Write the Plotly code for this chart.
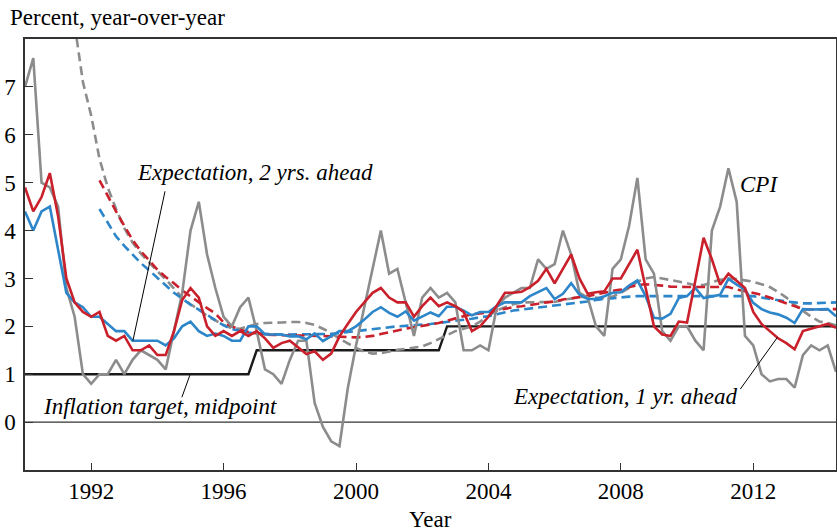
import plotly.graph_objects as go

# Quarterly data, 1990Q1 .. 2014Q3
start_year = 1990
n_quarters = 99

cpi = [7.0, 7.6, 5.0, 4.9, 4.5, 2.8, 2.2, 1.0, 0.8, 1.0, 1.0, 1.3, 1.0, 1.3, 1.5, 1.4, 1.3, 1.1, 1.9, 2.7,
       4.0, 4.6, 3.5, 2.8, 2.2, 2.0, 2.4, 2.6, 1.9, 1.1, 1.0, 0.8, 1.3, 1.7, 1.7, 0.4, -0.1, -0.4, -0.5, 0.7,
       1.6, 2.4, 3.2, 4.0, 3.1, 3.2, 2.5, 1.8, 2.6, 2.8, 2.6, 2.7, 2.5, 1.5, 1.5, 1.6, 1.5, 2.4, 2.6, 2.7,
       2.8, 2.8, 3.4, 3.2, 3.3, 4.0, 3.5, 2.7, 2.6, 2.0, 1.8, 3.2, 3.4, 4.1, 5.1, 3.4, 3.1, 1.9, 1.7, 2.0,
       2.0, 1.7, 1.5, 4.0, 4.5, 5.3, 4.6, 1.8, 1.6, 1.0, 0.85, 0.9, 0.9, 0.72, 1.4, 1.6, 1.5, 1.6, 1.05]

exp_1yr = [4.9, 4.4, 4.7, 5.2, 4.3, 3.0, 2.5, 2.3, 2.2, 2.3, 1.8, 1.7, 1.8, 1.5, 1.5, 1.6, 1.4, 1.4, 1.9, 2.55,
           2.8, 2.6, 2.0, 1.8, 1.9, 1.8, 1.9, 1.8, 1.9, 1.75, 1.55, 1.65, 1.7, 1.55, 1.42, 1.48, 1.3, 1.43, 1.79, 2.05,
           2.3, 2.5, 2.7, 2.8, 2.6, 2.5, 2.5, 2.2, 2.42, 2.6, 2.42, 2.5, 2.42, 2.3, 1.9, 2.0, 2.2, 2.43, 2.7, 2.7,
           2.72, 2.82, 2.95, 3.2, 2.9, 3.2, 3.5, 3.0, 2.68, 2.71, 2.73, 3.0, 3.0, 3.3, 3.6, 2.8, 2.0, 1.83, 1.8, 2.1,
           2.08, 2.95, 3.85, 3.4, 2.87, 3.1, 2.95, 2.8, 2.3, 2.05, 1.9, 1.75, 1.65, 1.52, 1.9, 1.95, 2.0, 2.05, 1.97]

exp_2yr = [4.4, 4.0, 4.4, 4.5, 3.6, 2.7, 2.5, 2.4, 2.2, 2.2, 2.05, 1.9, 1.9, 1.7, 1.7, 1.7, 1.7, 1.6, 1.75, 2.0,
           2.1, 1.9, 1.8, 1.85, 1.8, 1.7, 1.7, 2.0, 2.0, 1.83, 1.83, 1.83, 1.79, 1.79, 1.73, 1.85, 1.69, 1.79, 1.9, 1.9,
           2.0, 2.14, 2.3, 2.4, 2.28, 2.2, 2.31, 2.12, 2.2, 2.29, 2.21, 2.41, 2.41, 2.33, 2.23, 2.3, 2.3, 2.42, 2.5, 2.5,
           2.5, 2.63, 2.72, 2.8, 2.57, 2.68, 2.9, 2.66, 2.57, 2.57, 2.63, 2.7, 2.71, 2.85, 2.96, 2.63, 2.18, 2.16, 2.26, 2.59,
           2.63, 2.8, 2.59, 2.63, 2.66, 2.99, 2.87, 2.77, 2.49, 2.36, 2.29, 2.25, 2.18, 2.07, 2.36, 2.35, 2.35, 2.36, 2.21]

target = [1.0] * 28 + [1.5] * 23 + [2.0] * 48

cpi_trend = [None] * 6 + [
    8.3, 7.1, 6.4, 5.5, 4.9, 4.45, 4.05, 3.75, 3.52, 3.33, 3.15, 2.98, 2.78, 2.6,
    2.46, 2.35, 2.22, 2.12, 2.03, 1.96, 1.95, 2.0, 2.05, 2.07, 2.07, 2.08, 2.09, 2.09, 2.07, 2.03, 1.95, 1.86, 1.74, 1.64,
    1.55, 1.47, 1.43, 1.44, 1.48, 1.51, 1.53, 1.55, 1.58, 1.65, 1.73, 1.82, 1.9, 1.95, 2.0, 2.1, 2.22, 2.33, 2.4, 2.46,
    2.5, 2.5, 2.5, 2.5, 2.51, 2.55, 2.58, 2.61, 2.62, 2.6, 2.58, 2.62, 2.7, 2.8, 2.93, 3.0, 3.03, 3.0, 2.97, 2.93,
    2.9, 2.86, 2.86, 2.92, 2.97, 3.0, 2.99, 2.96, 2.93, 2.88, 2.82, 2.72, 2.6, 2.45, 2.32, 2.2, 2.1, 2.07, 2.02]

exp_1yr_trend = [None] * 9 + [
    5.05, 4.72, 4.4, 4.1, 3.8, 3.57, 3.37, 3.18, 3.03, 2.9, 2.75,
    2.62, 2.5, 2.38, 2.27, 2.08, 2.0, 1.93, 1.88, 1.85, 1.83, 1.82, 1.81, 1.81, 1.81, 1.81, 1.81, 1.8, 1.79, 1.78, 1.77,
    1.77, 1.78, 1.8, 1.84, 1.88, 1.91, 1.95, 1.98, 2.01, 2.04, 2.07, 2.12, 2.17, 2.21, 2.25, 2.27, 2.29, 2.33, 2.37, 2.4,
    2.42, 2.44, 2.47, 2.5, 2.52, 2.56, 2.59, 2.61, 2.63, 2.66, 2.7, 2.74, 2.77, 2.82, 2.86, 2.88, 2.87, 2.85, 2.83, 2.82,
    2.82, 2.82, 2.82, 2.82, 2.82, 2.82, 2.77, 2.73, 2.7, 2.66, 2.6, 2.54, 2.47, 2.41, 2.36, 2.35, 2.35, 2.35, 2.36]

exp_2yr_trend = [None] * 9 + [
    4.45, 4.15, 3.88, 3.68, 3.5, 3.32, 3.17, 3.02, 2.85, 2.7, 2.58,
    2.45, 2.35, 2.24, 2.13, 2.02, 1.94, 1.9, 1.87, 1.85, 1.84, 1.83, 1.83, 1.83, 1.83, 1.83, 1.83, 1.83, 1.84, 1.86, 1.88,
    1.9, 1.92, 1.94, 1.97, 1.99, 2.0, 2.01, 2.02, 2.03, 2.05, 2.07, 2.09, 2.11, 2.13, 2.16, 2.19, 2.21, 2.25, 2.29, 2.33,
    2.35, 2.37, 2.39, 2.42, 2.44, 2.46, 2.48, 2.5, 2.52, 2.55, 2.57, 2.59, 2.61, 2.62, 2.63, 2.63, 2.63, 2.63, 2.63, 2.63,
    2.63, 2.63, 2.63, 2.63, 2.63, 2.63, 2.63, 2.63, 2.63, 2.6, 2.57, 2.55, 2.52, 2.5, 2.48, 2.48, 2.49, 2.5, 2.5]

x_tick_vals = [1992, 1996, 2000, 2004, 2008, 2012]
y_tick_vals = [0, 1, 2, 3, 4, 5, 6, 7]

quarters = [start_year + i / 4 for i in range(n_quarters)]

GRAY = "#8c8c8c"
RED = "#c9202b"
BLUE = "#2c86c9"
BLACK = "#1a1a1a"
FONT = "Liberation Serif"
FS = 23

fig = go.Figure()

def add(y, color, dash="solid", width=2.6):
    fig.add_trace(go.Scatter(x=quarters, y=y, mode="lines", connectgaps=False,
                             line=dict(color=color, width=width, dash=dash), showlegend=False,
                             hoverinfo="skip"))

add(target, BLACK, width=2.4)
add(cpi_trend, GRAY, dash="9px,5px")
add(exp_2yr_trend, BLUE, dash="9px,5px")
add(exp_1yr_trend, RED, dash="9px,5px")
add(cpi, GRAY)
add(exp_2yr, BLUE)
add(exp_1yr, RED)

# zero line
fig.add_shape(type="line", xref="paper", yref="y", x0=0, x1=1, y0=0, y1=0,
              line=dict(color="#333333", width=1.2), layer="below")

# leader lines
leaders = [
    (1994.23, 4.82, 1993.26, 1.70),
    (1994.98, 0.98, 1994.74, 0.52),
    (2011.61, 0.69, 2012.73, 1.77),
]
for x0, y0, x1, y1 in leaders:
    fig.add_shape(type="line", xref="x", yref="y", x0=x0, y0=y0, x1=x1, y1=y1,
                  line=dict(color="black", width=1))

labels = [
    ("Expectation, 2 yrs. ahead", 1996.94, 5.22),
    ("Inflation target, midpoint", 1994.07, 0.33),
    ("CPI", 2012.16, 4.97),
    ("Expectation, 1 yr. ahead", 2008.14, 0.54),
]
for txt, x, y in labels:
    fig.add_annotation(x=x, y=y, xref="x", yref="y", text=f"<i>{txt}</i>", showarrow=False,
                       font=dict(family=FONT, size=FS, color="black"), xanchor="center", yanchor="middle")

fig.add_annotation(x=-0.021, y=1.051, xref="paper", yref="paper", text="Percent, year-over-year",
                   showarrow=False, xanchor="left", yanchor="middle",
                   font=dict(family=FONT, size=FS, color="black"))
fig.add_annotation(x=0.5, y=-0.116, xref="paper", yref="paper", text="Year",
                   showarrow=False, xanchor="center", yanchor="middle",
                   font=dict(family=FONT, size=FS, color="black"))

axis_common = dict(showgrid=False, zeroline=False, showline=True, linecolor="#333333", linewidth=1.5,
                   mirror=True, ticks="inside", tickcolor="#333333", tickwidth=1.2, automargin=False,
                   tickfont=dict(family=FONT, size=FS, color="black"))
fig.update_xaxes(range=[1990, 2014.5], tickvals=x_tick_vals, ticktext=[str(v) for v in x_tick_vals],
                 ticklen=7, **axis_common)
fig.update_yaxes(range=[-1, 8], tickvals=y_tick_vals, ticktext=[str(v) for v in y_tick_vals],
                 ticklen=8, ticklabelstandoff=3, **axis_common)

fig.update_layout(width=837, height=532, margin=dict(l=25, r=1, t=39, b=62),
                  plot_bgcolor="white", paper_bgcolor="white",
                  font=dict(family=FONT, size=FS, color="black"))

fig.write_html("out.html", config={"displayModeBar": False},
               post_script="document.body.style.margin='0px';document.body.style.overflow='hidden';")
